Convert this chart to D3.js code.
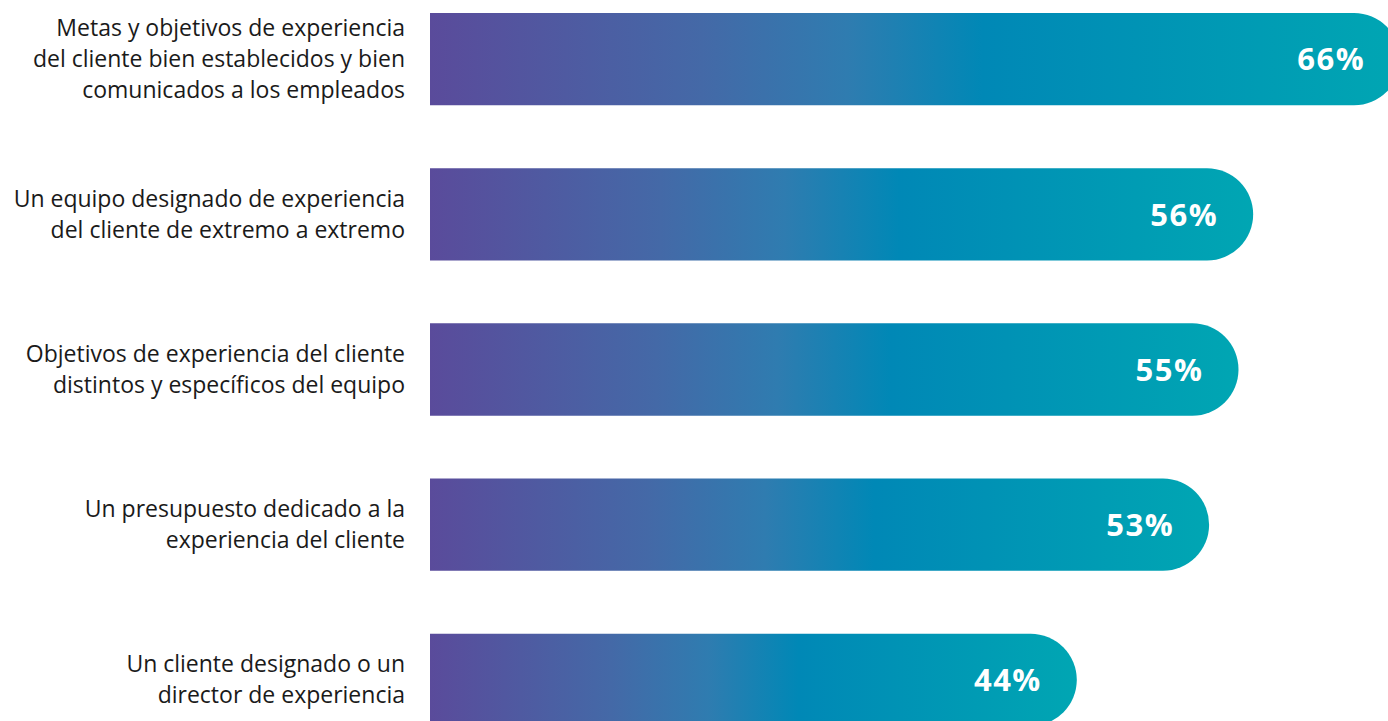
<!DOCTYPE html>
<html>
<head>
<meta charset="UTF-8">
<title>Experiencia del cliente</title>
<style>
  html, body { margin: 0; padding: 0; background: #ffffff; overflow: hidden; }
  svg { display: block; }
</style>
</head>
<body>
<div id="vis"></div>
<script src="https://d3js.org/d3.v7.min.js"></script>
<script>
// data
var categories = [
  ["Metas y objetivos de experiencia", "del cliente bien establecidos y bien", "comunicados a los empleados"],
  ["Un equipo designado de experiencia", "del cliente de extremo a extremo"],
  ["Objetivos de experiencia del cliente", "distintos y específicos del equipo"],
  ["Un presupuesto dedicado a la", "experiencia del cliente"],
  ["Un cliente designado o un", "director de experiencia"]
];
var values = [66, 56, 55, 53, 44];

var width = 1388, height = 721;
var left = 430;

var svg = d3.select("#vis").append("svg")
  .attr("width", width)
  .attr("height", height);

var x = d3.scaleLinear().domain([0, 10]).range([left, left + 147]);

var y = d3.scaleBand()
  .domain(d3.range(values.length))
  .range([-18, 757])
  .paddingInner(0.405)
  .paddingOuter(0.2);

var bh = y.bandwidth();

// gradient, per bar
var defs = svg.append("defs");
var grad = defs.append("linearGradient")
  .attr("id", "barGrad")
  .attr("x1", "0%").attr("x2", "100%")
  .attr("y1", "0%").attr("y2", "0%");
var stops = [
  [0, "#5a4b9b"],
  [0.28, "#4469a7"],
  [0.43, "#2f7cb0"],
  [0.57, "#0088b6"],
  [1, "#00a6b3"]
];
stops.forEach(function(s) {
  grad.append("stop").attr("offset", s[0]).attr("stop-color", s[1]);
});

function barPath(d, i) {
  var x0 = x(0), x1 = x(d), y0 = y(i), r = bh / 2;
  return "M" + x0 + "," + y0 +
    "H" + (x1 - r) +
    "A" + r + "," + r + " 0 0 1 " + (x1 - r) + "," + (y0 + bh) +
    "H" + x0 + "Z";
}

svg.selectAll("path.bar")
  .data(values)
  .enter()
  .append("path")
  .attr("class", "bar")
  .attr("d", barPath)
  .attr("fill", "url(#barGrad)");

// value labels
svg.selectAll("text.val")
  .data(values)
  .enter()
  .append("text")
  .attr("class", "val")
  .attr("x", function(d) { return x(d) - 35; })
  .attr("y", function(d, i) { return y(i) + bh / 2; })
  .attr("dy", "0.36em")
  .attr("text-anchor", "end")
  .style("font-family", "'Open Sans', sans-serif")
  .style("font-weight", "700")
  .style("font-size", "31px")
  .style("letter-spacing", "1.5px")
  .style("fill", "#ffffff")
  .text(function(d) { return d + "%"; });

// category labels
var lineH = 31;
var labels = svg.selectAll("text.cat")
  .data(categories)
  .enter()
  .append("text")
  .attr("class", "cat")
  .attr("text-anchor", "end")
  .style("font-family", "'Open Sans', sans-serif")
  .style("font-size", "23px")
  .style("fill", "#1a1a1a");

labels.each(function(lines, i) {
  var t = d3.select(this);
  var cy = y(i) + bh / 2;
  var start = cy - (lines.length - 1) * lineH / 2;
  lines.forEach(function(l, j) {
    t.append("tspan")
      .attr("x", 405)
      .attr("y", start + j * lineH)
      .attr("dy", "0.35em")
      .text(l);
  });
});
</script>
</body>
</html>
